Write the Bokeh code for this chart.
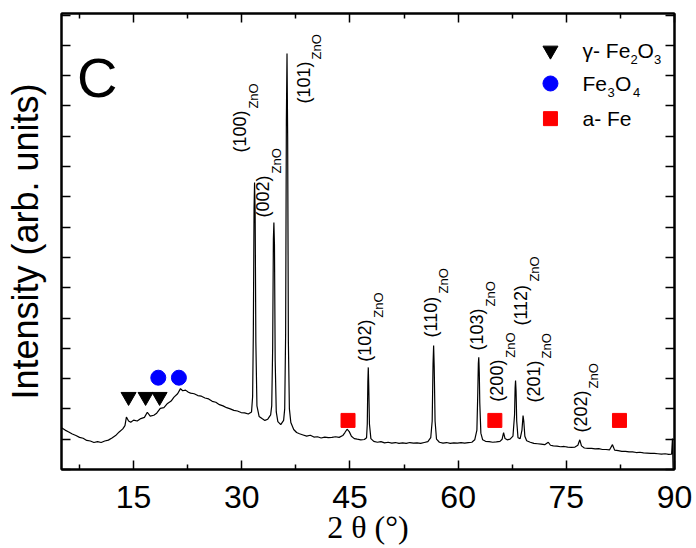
import math
from bokeh.plotting import figure
from bokeh.models import FixedTicker, LinearAxis, Range1d
from bokeh.embed import file_html
from bokeh.resources import INLINE
from bokeh.core.properties import value

# ---------------- data ----------------
two_theta = [
    5.0, 5.5, 6.0, 6.5, 7.0, 7.5, 8.0, 8.5, 9.0, 9.5, 10.0, 10.5, 11.0, 11.5, 12.0, 12.5, 13.0, 13.5, 13.8,
    14.0, 14.3, 14.6, 15.0, 15.5, 16.0, 16.5, 16.9, 17.3, 17.8, 18.2, 18.7, 19.2, 19.7, 20.2, 20.6, 21.1,
    21.5, 21.8, 22.2, 22.6, 22.9, 23.4, 23.9, 24.4, 24.9, 25.4, 25.9, 26.4, 26.9, 27.4, 27.9, 28.4, 28.9,
    29.4, 29.9, 30.4, 30.9, 31.35,
    31.5, 31.6, 31.7, 31.77, 31.85, 31.95, 32.1, 32.4, 32.8, 33.2, 33.6, 34.0,
    34.15, 34.28, 34.38, 34.45, 34.53, 34.63, 34.78, 35.0, 35.4, 35.8,
    35.95, 36.08, 36.18, 36.27, 36.36, 36.46, 36.6, 36.8, 37.2, 37.6, 38.0, 38.5, 39.0, 39.5, 40.0,
    40.5, 41.0, 41.5, 42.0, 42.5, 43.0, 43.5, 44.0, 44.3, 44.6, 44.9, 45.2, 45.6, 46.0, 46.5, 47.0, 47.3,
    47.4, 47.48, 47.54, 47.6, 47.7, 47.9, 48.3, 48.8, 49.3, 49.8, 50.3, 50.8, 51.3, 51.8, 52.3, 52.8,
    53.3, 53.8, 54.3, 54.8, 55.3, 55.8, 56.2,
    56.4, 56.52, 56.6, 56.68, 56.8, 57.0, 57.4, 57.9, 58.4, 58.9, 59.4, 59.9, 60.4, 60.9, 61.4, 61.9,
    62.3, 62.6,
    62.72, 62.8, 62.86, 62.93, 63.0, 63.15, 63.4, 63.8, 64.3, 64.8, 65.3, 65.8, 66.1, 66.3, 66.5, 66.8,
    67.2, 67.6,
    67.82, 67.9, 67.96, 68.03, 68.12, 68.3, 68.6, 68.85, 69.0, 69.1, 69.25, 69.5, 70.0, 70.5, 71.0,
    71.5, 72.0, 72.5, 72.8, 73.2, 73.7, 74.2, 74.7, 75.2, 75.7, 76.2, 76.6, 76.87, 77.1, 77.5, 78.0,
    78.5, 79.0, 79.5, 80.0, 80.5, 81.0, 81.4, 81.7, 82.2, 82.7, 83.2, 83.7, 84.2, 84.7, 85.2, 85.7,
    86.2, 86.7, 87.2, 87.7, 88.2, 88.7, 89.2, 89.6, 89.72, 89.8,
]
intensity = [
    1.38, 1.30, 1.24, 1.17, 1.12, 1.06, 1.03, 0.96, 0.94, 0.89, 0.92, 0.89, 0.94, 0.97, 1.04, 1.12, 1.24, 1.34, 1.45,
    1.73, 1.60, 1.56, 1.63, 1.60, 1.68, 1.72, 1.89, 1.76, 1.79, 1.86, 2.02, 2.04, 2.18, 2.26, 2.39, 2.50,
    2.67, 2.60, 2.62, 2.55, 2.52, 2.50, 2.44, 2.42, 2.36, 2.33, 2.25, 2.22, 2.14, 2.10, 2.04, 2.00, 1.95,
    1.93, 1.88, 1.87, 1.83, 1.90,
    2.40, 4.50, 8.60, 9.47, 8.50, 4.20, 2.10, 1.75, 1.68, 1.62, 1.66, 1.80,
    2.10, 4.00, 7.60, 8.15, 7.40, 3.60, 1.90, 1.58, 1.48, 1.62,
    2.00, 4.50, 11.50, 13.73, 11.00, 4.20, 2.00, 1.55, 1.32, 1.22, 1.18, 1.14, 1.10, 1.13, 1.07,
    1.08, 1.04, 1.07, 1.05, 1.06, 1.08, 1.06, 1.12, 1.22, 1.33, 1.25, 1.10, 1.02, 1.00, 0.98, 0.99, 1.05,
    1.50, 2.90, 3.37, 2.80, 1.50, 1.02, 0.93, 0.90, 0.92, 0.88, 0.90, 0.87, 0.89, 0.86, 0.88, 0.86,
    0.89, 0.87, 0.88, 0.86, 0.89, 0.92, 1.05,
    1.60, 3.50, 4.09, 3.40, 1.60, 1.00, 0.90, 0.87, 0.89, 0.86, 0.88, 0.87, 0.89, 0.87, 0.89, 0.90,
    0.98, 1.30,
    2.50, 3.50, 3.70, 3.20, 2.20, 1.20, 0.98, 0.93, 0.92, 0.90, 0.91, 0.93, 1.00, 1.22, 1.02, 0.98,
    1.00, 1.10,
    1.80, 2.70, 2.94, 2.60, 1.60, 1.05, 1.02, 1.30, 1.78, 1.60, 1.10, 0.95, 0.90, 0.86, 0.85,
    0.84, 0.82, 0.90, 0.80, 0.78, 0.77, 0.75, 0.76, 0.74, 0.73, 0.74, 0.80, 0.98, 0.78, 0.71, 0.70,
    0.70, 0.68, 0.69, 0.66, 0.66, 0.65, 0.82, 0.64, 0.62, 0.60, 0.60, 0.58, 0.58, 0.56, 0.57, 0.55,
    0.54, 0.53, 0.53, 0.52, 0.51, 0.52, 0.50, 0.51, 1.02, 0.00,
]

x_ticks = [15, 30, 45, 60, 75, 90]
x_minor_ticks = [7.5, 22.5, 37.5, 52.5, 67.5, 82.5]
y_ticks = list(range(0, 16))

# phase markers
fe2o3_x = [14.30, 16.66, 18.60]
fe2o3_y = [2.40, 2.40, 2.40]
fe3o4_x = [18.42, 21.28]
fe3o4_y = [3.03, 3.03]
fe_x = [44.73, 65.09, 82.37]
fe_y = [1.62, 1.62, 1.62]

# peak labels (hkl of ZnO)
peak_labels = ["(100)", "(002)", "(101)", "(102)", "(110)", "(103)", "(200)", "(112)", "(201)", "(202)"]
peak_label_x = [29.76, 33.00, 38.56, 47.15, 56.17, 62.68, 65.45, 68.78, 70.51, 77.00]
peak_label_y = [10.46, 8.32, 12.08, 3.56, 4.36, 3.93, 2.24, 4.75, 2.21, 1.22]

# legend
legend_marker_x = 72.8
legend_text_x = 77.24
legend_y = [13.83, 12.74, 11.58]

# ---------------- figure ----------------
SANS = "Liberation Sans"
p = figure(width=696, height=548, output_backend="svg", toolbar_location=None,
           x_range=Range1d(5, 90), y_range=Range1d(0, 15.05),
           min_border_left=61, min_border_right=22, min_border_top=13, min_border_bottom=79)
p.background_fill_color = "white"
p.border_fill_color = "white"
p.grid.visible = False
p.outline_line_color = "black"
p.outline_line_width = 2

def style_axis(ax, ticker, show_labels):
    ax.ticker = ticker
    ax.axis_line_color = "black"
    ax.axis_line_width = 2
    ax.major_tick_line_color = "black"
    ax.major_tick_line_width = 1.5
    ax.minor_tick_line_color = "black"
    ax.minor_tick_line_width = 1.5
    ax.major_tick_in = 9
    ax.major_tick_out = 0
    ax.minor_tick_in = 5
    ax.minor_tick_out = 0
    if not show_labels:
        ax.major_label_text_color = None
        ax.major_label_text_font_size = "1px"
        ax.major_label_standoff = 0

xt = FixedTicker(ticks=x_ticks, minor_ticks=x_minor_ticks)
yt = FixedTicker(ticks=y_ticks, minor_ticks=[])

xb = p.xaxis[0]
style_axis(xb, xt, True)
xb.major_label_text_font = SANS
xb.major_label_text_font_size = "32px"
xb.major_label_text_color = "black"
xb.major_label_standoff = 16
xb.axis_label = "2 θ (°)"
xb.axis_label_text_font = "Liberation Serif"
xb.axis_label_text_font_size = "32px"
xb.axis_label_text_font_style = "normal"
xb.axis_label_text_color = "black"
xb.axis_label_standoff = -2

yl = p.yaxis[0]
style_axis(yl, yt, False)
yl.axis_label = "Intensity (arb. units)"
yl.axis_label_text_font = SANS
yl.axis_label_text_font_size = "36px"
yl.axis_label_text_font_style = "normal"
yl.axis_label_text_color = "black"
yl.axis_label_standoff = 16

xa = LinearAxis()
style_axis(xa, FixedTicker(ticks=x_ticks, minor_ticks=x_minor_ticks), False)
p.add_layout(xa, "above")
yr = LinearAxis()
style_axis(yr, FixedTicker(ticks=y_ticks, minor_ticks=[]), False)
p.add_layout(yr, "right")

# pattern
p.line(two_theta, intensity, line_color="black", line_width=1.2)

# phase markers
p.scatter(fe2o3_x, fe2o3_y, marker="inverted_triangle", size=15, color="black")
p.scatter(fe3o4_x, fe3o4_y, marker="circle", size=15, color="#0000ff")
p.scatter(fe_x, fe_y, marker="square", size=14, color="#ff0000")

# peak labels
p.text(x=peak_label_x, y=peak_label_y, text=peak_labels, angle=math.pi / 2,
       text_align="left", text_baseline="middle", text_font=value(SANS),
       text_font_size="18px", text_color="black")
p.text(x=peak_label_x, y=peak_label_y, text=["ZnO"] * len(peak_labels), angle=math.pi / 2,
       text_align="left", text_baseline="middle", text_font=value(SANS),
       text_font_size="13px", text_color="black", x_offset=13, y_offset=-44)

# panel letter
p.text(x=[9.94], y=[12.94], text=["C"], text_align="center", text_baseline="middle",
       text_font=value(SANS), text_font_size="56px", text_color="black")

# legend
p.scatter([legend_marker_x], [legend_y[0]], marker="inverted_triangle", size=15, color="black")
p.scatter([legend_marker_x], [legend_y[1]], marker="circle", size=15, color="#0000ff")
p.scatter([legend_marker_x], [legend_y[2]], marker="square", size=14, color="#ff0000")

legend_pieces = [
    # (row, text, x offset px, subscript?)
    (0, "γ- Fe", 0, False), (0, "2", 48, True), (0, "O", 55, False), (0, "3", 71.5, True),
    (1, "Fe", 0, False), (1, "3", 25, True), (1, "O", 32.5, False), (1, "4", 50.5, True),
    (2, "a- Fe", 0, False),
]
for row, txt, dx, sub in legend_pieces:
    p.text(x=[legend_text_x], y=[legend_y[row]], text=[txt], text_align="left",
           text_baseline="middle", text_font=value(SANS),
           text_font_size="13px" if sub else "21px", text_color="black",
           x_offset=dx, y_offset=9 if sub else 0)

open("out.html", "w").write(file_html(p, INLINE))
